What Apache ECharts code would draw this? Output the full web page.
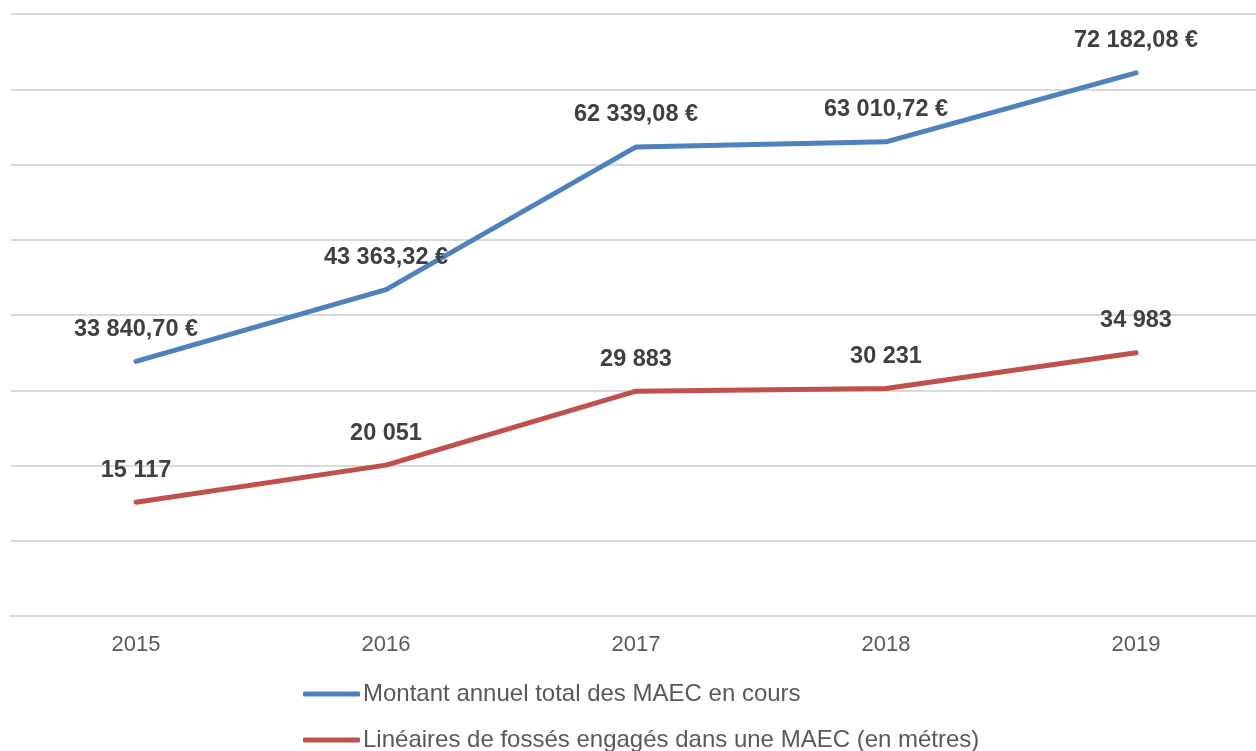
<!DOCTYPE html>
<html>
<head>
<meta charset="utf-8">
<script src="https://cdn.jsdelivr.net/npm/echarts@6/dist/echarts.min.js"></script>
<style>
  html, body { margin: 0; padding: 0; background: #fff; }
  #chart { width: 1256px; height: 751px; }
</style>
</head>
<body>
<div id="chart"></div>
<script>
// données
const years = ['2015', '2016', '2017', '2018', '2019'];
const montantMAEC = [33840.70, 43363.32, 62339.08, 63010.72, 72182.08];
const lineairesFosses = [15117, 20051, 29883, 30231, 34983];
const seriesNames = [
  'Montant annuel total des MAEC en cours',
  'Linéaires de fossés engagés dans une MAEC (en métres)'
];

// format français : espace pour les milliers, virgule décimale
function fmt(v, dec) {
  let s = v.toFixed(dec);
  let parts = s.split('.');
  let ent = parts[0].replace(/\B(?=(\d{3})+(?!\d))/g, ' ');
  return parts.length > 1 ? ent + ',' + parts[1] : ent;
}

const chart = echarts.init(document.getElementById('chart'));

const labelStyle = {
  show: true,
  position: 'top',
  distance: 18,
  fontFamily: 'Liberation Sans, Arial, sans-serif',
  fontSize: 23.5,
  fontWeight: 'bold',
  color: '#404040'
};

const legendBase = {
  left: 298,
  itemWidth: 57,
  itemHeight: 5,
  icon: 'roundRect',
  textStyle: {
    fontFamily: 'Liberation Sans, Arial, sans-serif',
    fontSize: 24,
    color: '#595959',
    padding: [0, 0, 0, -2]
  }
};

chart.setOption({
  animation: false,
  grid: { left: 11, top: 14, width: 1250, height: 602, outerBoundsMode: 'none' },
  legend: [
    Object.assign({}, legendBase, { top: 677, data: [seriesNames[0]] }),
    Object.assign({}, legendBase, { top: 723, data: [seriesNames[1]] })
  ],
  xAxis: {
    type: 'category',
    data: years,
    boundaryGap: true,
    axisLine: { lineStyle: { color: '#d9d9d9', width: 2 } },
    axisTick: { show: false },
    axisLabel: {
      margin: 18,
      fontFamily: 'Liberation Sans, Arial, sans-serif',
      fontSize: 22,
      color: '#595959'
    }
  },
  yAxis: {
    type: 'value',
    min: 0,
    max: 80000,
    interval: 10000,
    axisLabel: { show: false },
    axisLine: { show: false },
    axisTick: { show: false },
    splitLine: { lineStyle: { color: '#d9d9d9', width: 2 } }
  },
  series: [
    {
      name: seriesNames[0],
      type: 'line',
      data: montantMAEC,
      symbol: 'circle',
      symbolSize: 4,
      itemStyle: { color: '#4f81bd' },
      lineStyle: { color: '#4f81bd', width: 5, cap: 'round' },
      label: Object.assign({}, labelStyle, { formatter: p => fmt(p.value, 2) + ' €' })
    },
    {
      name: seriesNames[1],
      type: 'line',
      data: lineairesFosses,
      symbol: 'circle',
      symbolSize: 4,
      itemStyle: { color: '#c0504d' },
      lineStyle: { color: '#c0504d', width: 5, cap: 'round' },
      label: Object.assign({}, labelStyle, { formatter: p => fmt(p.value, 0) })
    }
  ]
});
</script>
</body>
</html>
